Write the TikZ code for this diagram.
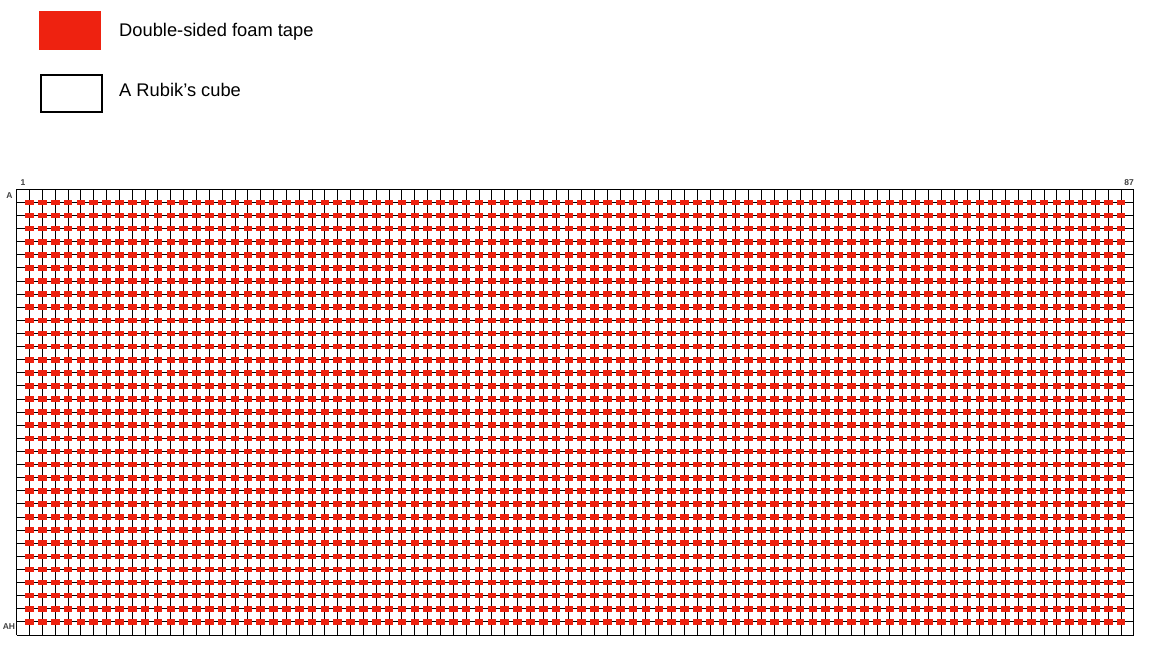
\documentclass[tikz,border=0pt]{standalone}
\usepackage{fontspec}
\setmainfont{Liberation Sans}
\definecolor{tape}{RGB}{238,34,16}
\begin{document}
\begin{tikzpicture}[x=1pt,y=-1pt,
  keytext/.style={anchor=base west,inner sep=0pt,font=\fontsize{18.3}{21}\selectfont},
  tapekey/.style={fill=tape,minimum width=62pt,minimum height=39pt,inner sep=0pt,anchor=north west},
  cubekey/.style={draw=black,line width=2pt,fill=white,minimum width=61pt,minimum height=37pt,inner sep=0pt,anchor=north west},
  gridline/.style={line width=1pt,black},
  axislabel/.style={inner sep=0pt,font=\fontsize{8.5}{9}\selectfont\bfseries,text=black!75}]
\useasboundingbox (0,0) rectangle (1166,661);
\fill[white] (0,0) rectangle (1166,661);
% legend
\node[tapekey] (tk) at (38.5,11) {};
\node[keytext] (tt) at (119,36.8) {Double-sided foam tape};
\node[cubekey] (ck) at (39.5,74) {};
\node[keytext] (ct) at (119,96.8) {A Rubik’s cube};
% grid
\def\gx{16.7}\def\gy{189.3}\def\dx{12.842}\def\dy{13.109}
\foreach \i in {0,...,87}
  \draw[gridline] ({\gx+\i*\dx},\gy) -- ++(0,445.7);
\foreach \j in {0,...,34}
  \draw[gridline] (\gx,{\gy+\j*\dy}) -- ++(1117.3,0);
\foreach \i in {1,...,86}
  \foreach \j in {1,...,33}
    \fill[tape] ({\gx+\i*\dx-4.3},{\gy+\j*\dy-2.8}) rectangle ++(8.6,5.6);
% axis labels
\node[axislabel] (c1) at (23,183) {1};
\node[axislabel] (c87) at (1129,183) {87};
\node[axislabel] (rA) at (9.5,196) {A};
\node[axislabel] (rAH) at (9,627) {AH};
\end{tikzpicture}
\end{document}
